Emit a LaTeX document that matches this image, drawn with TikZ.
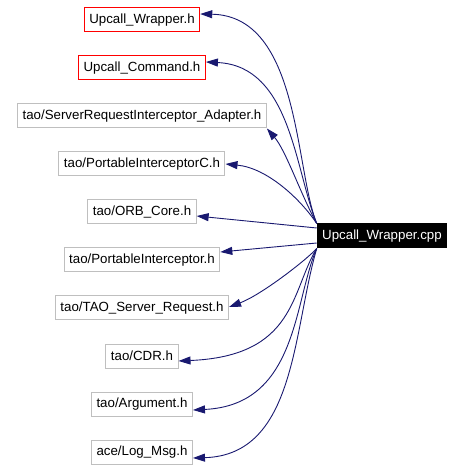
\documentclass[tikz,border=0pt]{standalone}
\usepackage{fontspec}
\setmainfont{Liberation Sans}
\usetikzlibrary{arrows.meta}
\definecolor{edgeblue}{RGB}{25,25,112}
\definecolor{boxgray}{RGB}{191,191,191}

\begin{document}
\begin{tikzpicture}
  [
    x = 1pt, y = 1pt,
    every node/.style = {draw = boxgray, rectangle, line width = 1pt,
      inner xsep = 5pt, minimum height = 24pt,
      font = \fontsize{13.3}{16}\selectfont},
    grow = left,  % first child on top
    level 1/.style = {sibling distance = 48pt},
    level distance = 240pt,
    edge from parent/.style = {draw = none},
    local/.style = {draw = red},
    dep/.style = {draw = edgeblue, line width = 0.9pt,
      -{Triangle[length = 12pt, width = 8pt]}}
  ]
  \useasboundingbox (-382, 236) rectangle (82, -234);
  \node [fill = black, draw = black, text = white] (Cpp) {Upcall\_Wrapper.cpp}
   child { node [local] (Wrapper) {Upcall\_Wrapper.h}}
   child { node [local] (Command) {Upcall\_Command.h}}
   child { node (Adapter) {tao/ServerRequestInterceptor\_Adapter.h}}
   child { node (PIC) {tao/PortableInterceptorC.h}}
   child { node (ORB) {tao/ORB\_Core.h}}
   child { node (PI) {tao/PortableInterceptor.h}}
   child { node (Request) {tao/TAO\_Server\_Request.h}}
   child { node (CDR) {tao/CDR.h}}
   child { node (Argument) {tao/Argument.h}}
   child { node (LogMsg) {ace/Log\_Msg.h}};
  \begin{scope}[every path/.style = {dep}]
    \draw (Cpp.north west) .. controls +(-22, 54) and +(100, -2) .. ([yshift = 6pt]Wrapper.east);
    \draw (Cpp.north west) .. controls +(-22, 54) and +(85, -4) .. ([yshift = 6pt]Command.east);
    \draw (Cpp.north west) .. controls +(-16, 29) and +(19, -22) .. (Adapter.south east);
    \draw (Cpp.north west) .. controls +(-16, 24) and +(42, -4) .. (PIC.east);
    \draw ([yshift = 8pt]Cpp.west) -- ([yshift = -4pt]ORB.east);
    \draw ([yshift = -7pt]Cpp.west) -- ([yshift = 8pt]PI.east);
    \draw (Cpp.south west) .. controls +(-11, -12) and +(32, 12) .. ([yshift = 1pt]Request.east);
    \draw (Cpp.south west) .. controls +(-26, -42) and +(118, 5) .. ([yshift = -5pt]CDR.east);
    \draw (Cpp.south west) .. controls +(-23, -52) and +(105, 5) .. ([yshift = -6pt]Argument.east);
    \draw (Cpp.south west) .. controls +(-24, -82) and +(103, 3) .. ([yshift = -6pt]LogMsg.east);
  \end{scope}
\end{tikzpicture}
\end{document}
